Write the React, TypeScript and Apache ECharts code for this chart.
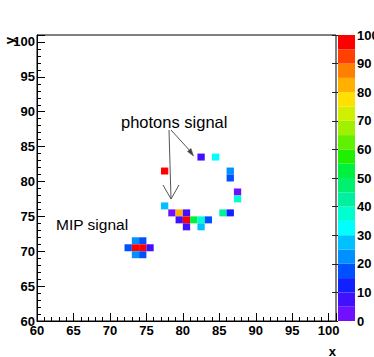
import React, { useEffect, useRef } from "react";
import * as echarts from "echarts";

// Bin lower edges (x, y) and bin contents
const cellX = [82, 84, 77, 86, 86, 87, 87, 77, 78, 79, 80, 85, 86, 79, 80, 81, 82, 83, 80, 82, 73, 74, 72, 73, 74, 75, 73, 74];
const cellY = [83, 83, 81, 81, 80, 78, 77, 76, 75, 75, 75, 75, 75, 74, 74, 74, 74, 74, 73, 73, 71, 71, 70, 70, 70, 70, 69, 69];
const cellV = [8, 33, 98, 23, 18, 3, 38, 28, 3, 83, 8, 43, 13, 8, 98, 52, 38, 18, 8, 28, 23, 18, 17, 98, 98, 8, 23, 17];

// Colour palette (20 contour levels, 0..100)
const palette = [
  "#7010ff", "#4010ff", "#1020ff", "#0050ff", "#0090ff",
  "#00c0ff", "#00ffff", "#00ffd0", "#00f0a0", "#00f070",
  "#00f040", "#20f000", "#60f000", "#a0f000", "#d0f000",
  "#ffe000", "#ffb000", "#ff8000", "#ff4000", "#ff0000",
];
const levelLows = [0, 5, 10, 15, 20, 25, 30, 35, 40, 45, 50, 55, 60, 65, 70, 75, 80, 85, 90, 95];

const X_MIN = 60, X_MAX = 101, Y_MIN = 60, Y_MAX = 101, Z_MIN = 0, Z_MAX = 100;

const FONT = "'Liberation Sans', Arial, Helvetica, sans-serif";

function colorFor(v: number) {
  const i = Math.min(palette.length - 1, Math.max(0, Math.floor((v - Z_MIN) / 5)));
  return palette[i];
}

const labelStyle = {
  fontFamily: FONT,
  fontWeight: "bold" as const,
  fontSize: 13,
  color: "#000",
};

export default function App() {
  const ref = useRef<HTMLDivElement>(null);
  useEffect(() => {
    if (!ref.current) return;
    const chart = echarts.init(ref.current, undefined, { renderer: "svg" });
    const cells = cellX.map((x, i) => [x, cellY[i], cellV[i]]);
    const bands = levelLows.map((lo, i) => [0, lo, i]);
    const option: any = {
      animation: false,
      backgroundColor: "#fff",
      grid: [
        {
          left: 37, top: 35, width: 299, height: 286,
          show: true, borderColor: "#000", borderWidth: 1, backgroundColor: "transparent",
          containLabel: false, outerBoundsMode: "none",
        },
        {
          left: 338, top: 35, width: 17, height: 286,
          show: false, containLabel: false, outerBoundsMode: "none",
        },
      ],
      xAxis: [
        {
          gridIndex: 0, type: "value", position: "bottom", min: X_MIN, max: X_MAX, interval: 5,
          axisLine: { show: true, lineStyle: { color: "#000", width: 1 } },
          axisTick: { show: true, inside: true, length: 8, lineStyle: { color: "#000", width: 1 } },
          axisLabel: { ...labelStyle, margin: 3, formatter: (v: number) => (v % 5 === 0 ? String(v) : "") },
          splitLine: { show: false },
        },
        {
          gridIndex: 0, type: "value", position: "bottom", min: X_MIN, max: X_MAX, interval: 1,
          axisLine: { show: false },
          axisTick: { show: true, inside: true, length: 4, lineStyle: { color: "#000", width: 1 } },
          axisLabel: { show: false },
          splitLine: { show: false },
        },
        {
          gridIndex: 1, type: "value", min: 0, max: 1, show: false,
        },
      ],
      yAxis: [
        {
          gridIndex: 0, type: "value", position: "left", min: Y_MIN, max: Y_MAX, interval: 5,
          axisLine: { show: true, lineStyle: { color: "#000", width: 1 } },
          axisTick: { show: true, inside: true, length: 8, lineStyle: { color: "#000", width: 1 } },
          axisLabel: { ...labelStyle, margin: 2, formatter: (v: number) => (v % 5 === 0 ? String(v) : "") },
          splitLine: { show: false },
        },
        {
          gridIndex: 0, type: "value", position: "left", min: Y_MIN, max: Y_MAX, interval: 1,
          axisLine: { show: false },
          axisTick: { show: true, inside: true, length: 4, lineStyle: { color: "#000", width: 1 } },
          axisLabel: { show: false },
          splitLine: { show: false },
        },
        {
          gridIndex: 1, type: "value", position: "right", min: Z_MIN, max: Z_MAX, interval: 10,
          axisLine: { show: false },
          axisTick: { show: true, inside: true, length: 6, lineStyle: { color: "#222", width: 1 } },
          axisLabel: { ...labelStyle, margin: 2 },
          splitLine: { show: false },
        },
      ],
      series: [
        {
          type: "custom",
          xAxisIndex: 0,
          yAxisIndex: 0,
          encode: { x: 0, y: 1 },
          data: cells,
          renderItem: (_p: any, api: any) => {
            const x = api.value(0), y = api.value(1), v = api.value(2);
            const p0 = api.coord([x, y + 1]);
            const p1 = api.coord([x + 1, y]);
            return {
              type: "rect",
              shape: { x: p0[0], y: p0[1], width: p1[0] - p0[0], height: p1[1] - p0[1] },
              style: { fill: colorFor(v) },
            };
          },
        },
        {
          type: "custom",
          xAxisIndex: 2,
          yAxisIndex: 2,
          encode: { x: 0, y: 1 },
          data: bands,
          renderItem: (_p: any, api: any) => {
            const lo = api.value(1), idx = api.value(2);
            const p0 = api.coord([0, lo + 5]);
            const p1 = api.coord([1, lo]);
            return {
              type: "rect",
              shape: { x: p0[0], y: p0[1], width: p1[0] - p0[0], height: p1[1] - p0[1] },
              style: { fill: palette[idx] },
            };
          },
        },
      ],
      graphic: [
        {
          type: "text", x: 121, y: 122,
          style: { text: "photons signal", fontFamily: FONT, fontSize: 16.5, fill: "#000", align: "left", verticalAlign: "middle" },
        },
        {
          type: "text", x: 56, y: 224,
          style: { text: "MIP signal", fontFamily: FONT, fontSize: 15.5, fill: "#000", align: "left", verticalAlign: "middle" },
        },
        { type: "line", shape: { x1: 169, y1: 130, x2: 171, y2: 199 }, style: { stroke: "#555", lineWidth: 1 } },
        { type: "polyline", shape: { points: [[163, 185], [171, 199], [179, 185]] }, style: { stroke: "#555", lineWidth: 1, fill: "none" } },
        { type: "line", shape: { x1: 171, y1: 130, x2: 192, y2: 153 }, style: { stroke: "#555", lineWidth: 1 } },
        { type: "polygon", shape: { points: [[193.5, 156], [187.5, 151.5], [191, 148.5]] }, style: { fill: "#444", stroke: "#444", lineWidth: 0.5 } },
        {
          type: "text", x: 336, y: 351,
          style: { text: "x", fontFamily: FONT, fontWeight: "bold", fontSize: 13, fill: "#000", align: "right", verticalAlign: "middle" },
        },
        {
          type: "text", x: 9.5, y: 37, rotation: Math.PI / 2,
          style: { text: "y", fontFamily: FONT, fontWeight: "bold", fontSize: 13, fill: "#000", align: "right", verticalAlign: "middle" },
        },
      ],
    };
    chart.setOption(option);
    return () => chart.dispose();
  }, []);
  return <div ref={ref} style={{ position: "absolute", left: 0, top: 0, width: 374, height: 357 }} />;
}
